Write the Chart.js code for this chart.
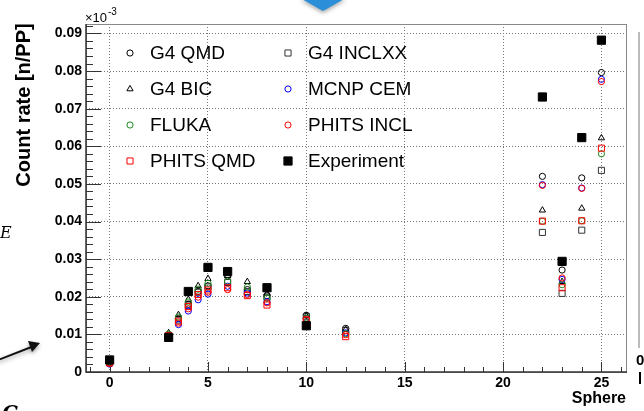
<!DOCTYPE html>
<html>
<head>
<meta charset="utf-8">
<script src="https://cdn.jsdelivr.net/npm/chart.js@4.4.1/dist/chart.umd.min.js"></script>
<style>
  html, body { margin: 0; padding: 0; background: #fff; }
  #wrap { width: 644px; height: 411px; }
</style>
</head>
<body>
<div id="wrap"><canvas id="countChart" width="644" height="411"></canvas></div>
<script>
// sphere index on x, count rate per primary on y
const spheres = [0, 3, 3.5, 4, 4.5, 5, 6, 7, 8, 10, 12, 22, 23, 24, 25];

const g4Qmd     = [0.0027, 0.0098, 0.0142, 0.0180, 0.0214, 0.0229, 0.0254, 0.0219, 0.0203, 0.0151, 0.0116, 0.0520, 0.0271, 0.0516, 0.0796];
const g4Inclxx  = [0.0025, 0.0096, 0.0138, 0.0178, 0.0212, 0.0226, 0.0238, 0.0214, 0.0199, 0.0147, 0.0110, 0.0371, 0.0209, 0.0377, 0.0536];
const g4Bic     = [0.0028, 0.0104, 0.0152, 0.0193, 0.0229, 0.0248, 0.0256, 0.0240, 0.0209, 0.0149, 0.0113, 0.0430, 0.0240, 0.0435, 0.0622];
const mcnpCem   = [0.0021, 0.0090, 0.0126, 0.0162, 0.0192, 0.0207, 0.0228, 0.0210, 0.0187, 0.0142, 0.0104, 0.0498, 0.0246, 0.0489, 0.0778];
const fluka     = [0.0026, 0.0101, 0.0146, 0.0186, 0.0220, 0.0236, 0.0241, 0.0226, 0.0196, 0.0143, 0.0102, 0.0401, 0.0232, 0.0402, 0.0580];
const phitsIncl = [0.0023, 0.0094, 0.0130, 0.0168, 0.0199, 0.0212, 0.0219, 0.0206, 0.0184, 0.0140, 0.0099, 0.0496, 0.0250, 0.0488, 0.0772];
const phitsQmd  = [0.0024, 0.0097, 0.0135, 0.0174, 0.0206, 0.0218, 0.0224, 0.0203, 0.0178, 0.0138, 0.0094, 0.0401, 0.0224, 0.0402, 0.0595];
const experiment = [0.0032, 0.0092, null, 0.0214, null, 0.0278, 0.0267, null, 0.0224, 0.0123, null, 0.0731, 0.0294, 0.0623, 0.0882];

const yTicks = ["0", "0.01", "0.02", "0.03", "0.04", "0.05", "0.06", "0.07", "0.08", "0.09"];

// legend rows, two columns
const legendRows = [
  ["G4 QMD", "G4 INCLXX"],
  ["G4 BIC", "MCNP CEM"],
  ["FLUKA", "PHITS INCL"],
  ["PHITS QMD", "Experiment"]
];

const green = "#1b8a1b";

function points(arr) {
  return spheres.map((x, i) => ({ x: x, y: arr[i] })).filter(p => p.y !== null);
}

function series(label, arr, style, color, radius, filled) {
  return {
    label: label,
    data: points(arr),
    pointStyle: style,
    pointRadius: radius,
    pointHoverRadius: radius,
    pointBorderWidth: 1,
    borderColor: color,
    pointBorderColor: color,
    pointBackgroundColor: filled ? color : "rgba(0,0,0,0)",
    showLine: false
  };
}

// first dataset ends up on top
const datasets = [
  series("Experiment", experiment, "rect", "#000", 5.8, true),
  series("PHITS QMD", phitsQmd, "rect", "#ff0000", 4.3, false),
  series("PHITS INCL", phitsIncl, "circle", "#ff0000", 3.1, false),
  series("FLUKA", fluka, "circle", green, 3.1, false),
  series("MCNP CEM", mcnpCem, "circle", "#0000ff", 3.1, false),
  series("G4 BIC", g4Bic, "triangle", "#000", 3.6, false),
  series("G4 INCLXX", g4Inclxx, "rect", "#333", 4.3, false),
  series("G4 QMD", g4Qmd, "circle", "#000", 3.1, false)
];

function marker(ctx, ds, x, y) {
  const r = ds.pointRadius;
  ctx.save();
  ctx.lineWidth = 1;
  ctx.strokeStyle = ds.pointBorderColor;
  ctx.fillStyle = ds.pointBackgroundColor;
  ctx.beginPath();
  if (ds.pointStyle === "circle") {
    ctx.arc(x, y, r, 0, Math.PI * 2);
  } else if (ds.pointStyle === "rect") {
    const s = r * Math.SQRT1_2;
    ctx.rect(x - s, y - s, 2 * s, 2 * s);
  } else {
    for (let k = 0; k < 3; k++) {
      const a = -Math.PI / 2 + k * 2 * Math.PI / 3;
      const px = x + r * Math.cos(a), py = y + r * Math.sin(a);
      if (k === 0) ctx.moveTo(px, py); else ctx.lineTo(px, py);
    }
    ctx.closePath();
  }
  ctx.fill();
  ctx.stroke();
  ctx.restore();
}

const rootFrame = {
  id: "rootFrame",
  beforeDatasetsDraw(chart) {
    const { ctx, chartArea: a, scales: { x, y } } = chart;
    ctx.save();
    // frame
    ctx.strokeStyle = "#888";
    ctx.lineWidth = 1;
    ctx.strokeRect(a.left + 0.5, a.top + 0.5, a.right - a.left - 1, a.bottom - a.top);
    ctx.strokeStyle = "#333";
    ctx.lineWidth = 1.5;
    ctx.beginPath();
    ctx.moveTo(a.left, a.top);
    ctx.lineTo(a.left, a.bottom);
    ctx.lineTo(a.right, a.bottom);
    ctx.stroke();
    // inward ticks
    ctx.lineWidth = 1;
    ctx.beginPath();
    for (let v = 0; v <= 0.0925; v += 0.002) {
      const py = Math.round(y.getPixelForValue(v)) + 0.5;
      const major = Math.abs(v / 0.01 - Math.round(v / 0.01)) < 1e-6;
      ctx.moveTo(a.left, py);
      ctx.lineTo(a.left + (major ? 15 : 7), py);
    }
    for (let v = -1; v <= 26; v += 1) {
      const px = Math.round(x.getPixelForValue(v)) + 0.5;
      ctx.moveTo(px, a.bottom);
      ctx.lineTo(px, a.bottom - (v % 5 === 0 ? 10 : 5));
    }
    ctx.stroke();
    ctx.restore();
  },
  afterDraw(chart) {
    const { ctx } = chart;
    ctx.save();
    ctx.fillStyle = "#000";

    // axis titles
    ctx.font = "bold 20px 'Liberation Sans', Arial, sans-serif";
    ctx.save();
    ctx.translate(24, 105);
    ctx.rotate(-Math.PI / 2);
    ctx.textAlign = "center";
    ctx.textBaseline = "middle";
    ctx.fillText("Count rate [n/PP]", 0, 0);
    ctx.restore();

    ctx.font = "bold 16px 'Liberation Sans', Arial, sans-serif";
    ctx.textAlign = "right";
    ctx.textBaseline = "middle";
    ctx.fillText("Sphere", 626, 399);

    // exponent
    ctx.textAlign = "left";
    ctx.font = "13px 'Liberation Sans', Arial, sans-serif";
    ctx.fillText("\u00d710", 85, 18);
    ctx.font = "10px 'Liberation Sans', Arial, sans-serif";
    ctx.fillText("-3", 108, 12);

    // legend
    const byLabel = {};
    chart.data.datasets.forEach(ds => { byLabel[ds.label] = ds; });
    const colX = [130, 288];
    ctx.font = "19px 'Liberation Sans', Arial, sans-serif";
    legendRows.forEach((row, r) => {
      const ly = 53 + r * 36;
      row.forEach((label, c) => {
        marker(ctx, byLabel[label], colX[c], ly);
        ctx.fillStyle = "#000";
        ctx.fillText(label, colX[c] + 20, ly + 1);
      });
    });

    // bits of the neighbouring figure cut into the picture
    ctx.save();
    ctx.shadowColor = "rgba(0,0,0,0.35)";
    ctx.shadowBlur = 4;
    ctx.shadowOffsetY = 2;
    ctx.fillStyle = "#2a8fd8";
    ctx.beginPath();
    ctx.moveTo(300, -2);
    ctx.lineTo(346, -2);
    ctx.lineTo(323, 11);
    ctx.closePath();
    ctx.fill();
    ctx.strokeStyle = "#111";
    ctx.lineWidth = 2;
    ctx.beginPath();
    ctx.moveTo(-2, 360);
    ctx.lineTo(34, 346);
    ctx.stroke();
    ctx.fillStyle = "#111";
    ctx.beginPath();
    ctx.moveTo(40, 343);
    ctx.lineTo(28, 341);
    ctx.lineTo(32, 352);
    ctx.closePath();
    ctx.fill();
    ctx.restore();

    ctx.fillStyle = "#000";
    ctx.textAlign = "left";
    ctx.font = "italic 16px 'DejaVu Serif', serif";
    ctx.fillText("E", 0, 234);
    ctx.font = "italic bold 20px 'DejaVu Serif', serif";
    ctx.textBaseline = "alphabetic";
    ctx.fillText("C", 2, 420);

    ctx.strokeStyle = "#bbb";
    ctx.lineWidth = 2;
    ctx.beginPath();
    ctx.moveTo(639, 32);
    ctx.lineTo(639, 348);
    ctx.stroke();
    ctx.font = "bold 15px 'Liberation Sans', Arial, sans-serif";
    ctx.textBaseline = "middle";
    ctx.fillText("0", 636, 361);
    ctx.fillRect(639, 372, 2, 12);
    ctx.restore();
  }
};

const tickFont = { family: "'Liberation Sans', Arial, sans-serif", size: 14, weight: "bold" };

new Chart(document.getElementById("countChart"), {
  type: "scatter",
  data: { datasets: datasets },
  options: {
    responsive: false,
    animation: false,
    devicePixelRatio: 1,
    layout: { padding: { left: 0, right: 17, top: 24, bottom: 0 } },
    plugins: { legend: { display: false }, tooltip: { enabled: false } },
    scales: {
      x: {
        type: "linear",
        min: -1.2,
        max: 26.3,
        afterFit(s) { s.height = 39; },
        ticks: {
          stepSize: 5,
          includeBounds: false,
          autoSkip: false,
          maxRotation: 0,
          padding: 3,
          color: "#000",
          font: tickFont
        },
        grid: { color: "#777", lineWidth: 1, drawTicks: false },
        border: { display: false, dash: [1, 2] }
      },
      y: {
        type: "linear",
        min: 0,
        max: 0.0925,
        afterFit(s) { s.width = 86; },
        ticks: {
          stepSize: 0.01,
          includeBounds: false,
          padding: 4,
          color: "#000",
          font: tickFont,
          callback: (v, i) => yTicks[Math.round(v / 0.01)]
        },
        grid: { color: "#777", lineWidth: 1, drawTicks: false },
        border: { display: false, dash: [1, 2] }
      }
    }
  },
  plugins: [rootFrame]
});
</script>
</body>
</html>
